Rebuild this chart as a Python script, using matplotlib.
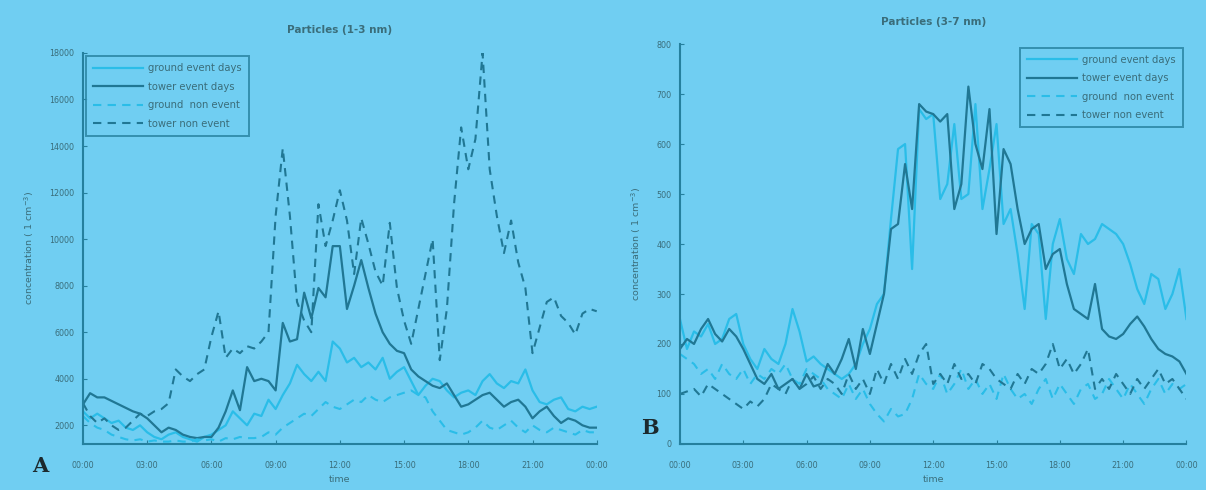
import numpy as np
import matplotlib.pyplot as plt

# 20-minute time grid over one day (hours)
hours = np.arange(73) / 3.0
tick_hours = [0, 3, 6, 9, 12, 15, 18, 21, 24]
tick_labels = ["00:00", "03:00", "06:00", "09:00", "12:00",
               "15:00", "18:00", "21:00", "00:00"]

# Panel A: 1-3 nm particles
ground_event_a = [
    2600, 2300, 2500, 2300, 2100, 2200, 1900, 1800, 2000, 1700, 1500, 1400,
    1600, 1700, 1500, 1400, 1300, 1500, 1600, 1800, 2000, 2600, 2300, 2000,
    2500, 2400, 3100, 2700, 3300, 3800, 4600, 4200, 3900, 4300, 3900, 5600,
    5300, 4700, 4900, 4500, 4700, 4400, 4900, 4000, 4300, 4500, 3900, 3300,
    3700, 4000, 3900, 3500, 3200, 3400, 3500, 3300, 3900, 4200, 3800, 3600,
    3900, 3800, 4400, 3500, 3000, 2900, 3100, 3200, 2700, 2600, 2800, 2700,
    2800]
tower_event_a = [
    2900, 3380, 3200, 3200, 3050, 2900, 2750, 2600, 2500, 2300, 2000, 1700,
    1900, 1800, 1600, 1500, 1450, 1500, 1500, 1900, 2600, 3500, 2650, 4500,
    3900, 4000, 3900, 3500, 6400, 5600, 5700, 7700, 6600, 7900, 7500, 9700,
    9700, 7000, 8000, 9100, 7900, 6800, 6000, 5500, 5200, 5100, 4400, 4100,
    3900, 3700, 3600, 3800, 3300, 2800, 2900, 3100, 3300, 3400, 3100, 2800,
    3000, 3100, 2800, 2300, 2600, 2800, 2400, 2100, 2300, 2200, 2000, 1900,
    1900]
ground_non_a = [
    2400, 2100, 1900, 1800, 1600, 1500, 1400, 1350, 1400, 1300, 1350, 1300,
    1300, 1350, 1300, 1300, 1400, 1350, 1400, 1300, 1450, 1400, 1500, 1450,
    1450, 1500, 1700, 1600, 1900, 2100, 2300, 2500, 2400, 2700, 3000, 2800,
    2700, 2900, 3100, 3000, 3300, 3100, 3000, 3200, 3300, 3400, 3500, 3300,
    3200, 2600, 2200, 1800, 1700, 1600, 1700, 1900, 2200, 1900, 1800, 2000,
    2200, 1900, 1700, 2000, 1800, 1700, 1900, 1800, 1700, 1600, 1800, 1700,
    1700]
tower_non_a = [
    2950, 2400, 2100, 2300, 2000, 1800, 1900, 2200, 2500, 2400, 2600, 2700,
    2950, 4400, 4100, 3900, 4200, 4400, 5800, 6900, 4900, 5300, 5100, 5400,
    5300, 5600, 6000, 11000, 13900, 11000, 7300, 6500, 6000, 11500, 9700, 10800,
    12100, 10800, 8500, 10900, 9800, 8600, 8000, 10700, 7900, 6500, 5500, 7000,
    8500, 10000, 4800, 7000, 11500, 14800, 13000, 14300, 18000, 13000, 11000, 9400,
    10800, 9000, 7900, 5100, 6200, 7300, 7500, 6700, 6400, 5900, 6800, 7000,
    6900]

# Panel B: 3-7 nm particles
ground_event_b = [
    250, 190, 225, 215, 240, 200, 210, 250, 260, 200, 170, 150,
    190, 170, 160, 200, 270, 225, 165, 175, 160, 150, 140, 130,
    140, 160, 200, 230, 280, 300, 450, 590, 600, 350, 670, 650,
    660, 490, 520, 640, 490, 500, 680, 470, 550, 640, 440, 470,
    380, 270, 440, 420, 250, 400, 450, 370, 340, 420, 400, 410,
    440, 430, 420, 400, 360, 310, 280, 340, 330, 270, 300, 350,
    250]
tower_event_b = [
    190, 210, 200, 230, 250, 220, 205, 230, 215, 190, 160, 130,
    120, 140, 110, 120, 130, 110, 140, 115, 120, 160, 140, 170,
    210, 150, 230, 180, 240, 300, 430, 440, 560, 470, 680, 665,
    660, 645, 660, 470, 520, 715, 600, 550, 670, 420, 590, 560,
    470, 400, 430, 440, 350, 380, 390, 320, 270, 260, 250, 320,
    230, 215, 210, 220, 240, 255, 235, 210, 190, 180, 175, 165,
    140]
ground_non_b = [
    180, 170, 160, 140, 150, 130, 160, 140, 130, 150, 120, 140,
    130, 150, 140, 160, 130, 120, 150, 140, 130, 110, 100, 90,
    120, 90, 110, 80, 60, 45, 70, 55, 60, 90, 140, 120,
    110, 140, 100, 120, 150, 110, 130, 100, 120, 90, 140, 110,
    90, 100, 80, 110, 130, 90, 120, 100, 80, 110, 120, 90,
    100, 130, 110, 90, 120, 100, 80, 110, 130, 100, 120, 110,
    120]
tower_non_b = [
    100, 105, 110, 95, 120, 110, 100, 90, 80, 70, 85, 75,
    90, 120, 110, 100, 130, 110, 120, 135, 110, 130, 120, 100,
    140, 110, 130, 100, 150, 120, 160, 130, 170, 140, 180, 200,
    120, 140, 120, 160, 130, 140, 120, 160, 150, 130, 120, 110,
    140, 120, 150, 140, 160, 200, 150, 170, 140, 160, 190, 110,
    130, 110, 140, 120, 100, 130, 110, 130, 150, 120, 130, 110,
    90]

BG = "#70cef2"
GROUND = "#2abde8"
TOWER = "#207794"
AXIS = "#25809e"
TEXT = "#3a6d7a"

fig = plt.figure(figsize=(12.06, 4.90), dpi=100, facecolor=BG)


def draw_panel(ax, series, title, ylim, yticks, legend_loc):
    ax.set_facecolor(BG)
    g_ev, t_ev, g_non, t_non = series
    ax.plot(hours, g_ev, color=GROUND, lw=1.6, label="ground event days")
    ax.plot(hours, t_ev, color=TOWER, lw=1.6, label="tower event days")
    ax.plot(hours, g_non, color=GROUND, lw=1.5, ls=(0, (4, 3)),
            label="ground  non event")
    ax.plot(hours, t_non, color=TOWER, lw=1.5, ls=(0, (4, 3)),
            label="tower non event")

    ax.set_xlim(0, 24)
    ax.set_ylim(*ylim)
    ax.set_xticks(tick_hours)
    ax.set_xticklabels(tick_labels)
    ax.set_yticks(yticks)
    for side in ("top", "right"):
        ax.spines[side].set_visible(False)
    for side in ("left", "bottom"):
        ax.spines[side].set_color(AXIS)
        ax.spines[side].set_linewidth(1.5)
    ax.tick_params(direction="in", length=3, color=AXIS, labelsize=5.8,
                   labelcolor=TEXT)
    ax.tick_params(axis="x", pad=12)
    ax.tick_params(axis="y", pad=6)
    ax.set_xlabel("time", fontsize=6.8, color=TEXT, labelpad=4)
    ax.set_ylabel("concentration ( 1 cm$^{-3}$)", fontsize=6.8, color=TEXT,
                  labelpad=10)
    ax.set_title(title, fontsize=7.5, fontweight="bold", color=TEXT, pad=14)

    leg = ax.legend(loc=legend_loc, fontsize=7.2, frameon=True, fancybox=False,
                    handlelength=5.0, handletextpad=0.5, borderpad=0.7,
                    labelspacing=0.85, borderaxespad=0.35)
    leg.get_frame().set_facecolor(BG)
    leg.get_frame().set_edgecolor(AXIS)
    leg.get_frame().set_linewidth(1.4)
    for t in leg.get_texts():
        t.set_color(TEXT)


ax_a = fig.add_axes([0.0688, 0.094, 0.426, 0.798])
draw_panel(ax_a, (ground_event_a, tower_event_a, ground_non_a, tower_non_a),
           "Particles (1-3 nm)", (1200, 18000),
           list(range(2000, 18001, 2000)), "upper left")

ax_b = fig.add_axes([0.5638, 0.094, 0.420, 0.816])
draw_panel(ax_b, (ground_event_b, tower_event_b, ground_non_b, tower_non_b),
           "Particles (3-7 nm)", (0, 800),
           list(range(0, 801, 100)), "upper right")

fig.text(40 / 1206, 1 - 466 / 490, "A", fontsize=15, fontweight="bold",
         family="serif", color="#1c2a2e", ha="center", va="center")
fig.text(650 / 1206, 1 - 428 / 490, "B", fontsize=15, fontweight="bold",
         family="serif", color="#1c2a2e", ha="center", va="center")

fig.savefig("out.png", dpi=100, facecolor=BG)
